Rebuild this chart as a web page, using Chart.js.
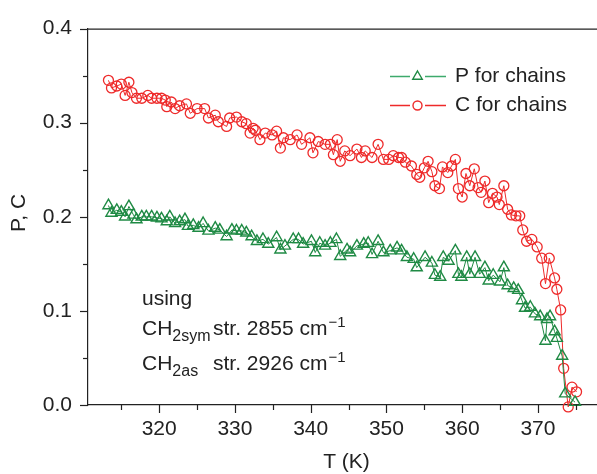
<!DOCTYPE html>
<html>
<head>
<meta charset="utf-8">
<script src="https://cdn.jsdelivr.net/npm/chart.js@4/dist/chart.umd.min.js"></script>
<style>
html,body{margin:0;padding:0;background:#fff;}
#c{display:block;}
</style>
</head>
<body>
<canvas id="c" width="597" height="474"></canvas>
<script>
// ---- data ----
const T_P = [313.3,313.7,314.4,315.0,315.5,316.0,316.6,317.0,317.7,318.3,319.0,319.7,320.3,321.0,321.4,322.1,322.7,323.4,323.8,324.5,325.2,325.8,326.5,327.4,328.0,328.9,329.6,330.2,330.9,331.5,332.2,332.9,333.7,334.4,335.5,336.0,336.6,337.7,338.4,339.0,340.1,340.6,341.2,341.9,342.6,343.4,343.9,344.8,345.2,346.1,347.0,347.6,348.1,348.9,349.6,350.5,351.4,352.0,352.7,353.6,354.0,355.1,356.0,356.4,357.1,357.5,358.2,359.1,359.5,359.9,360.6,361.0,361.7,362.3,363.0,363.5,364.1,365.0,365.5,366.0,366.8,367.4,367.9,368.3,369.0,369.6,370.3,371.0,371.2,371.6,372.2,372.5,373.2,373.6,374.9];
const P_values = [0.212,0.204,0.207,0.205,0.200,0.211,0.202,0.197,0.200,0.200,0.200,0.199,0.198,0.195,0.200,0.193,0.195,0.197,0.190,0.191,0.188,0.193,0.185,0.188,0.186,0.179,0.186,0.185,0.185,0.183,0.179,0.174,0.176,0.171,0.178,0.165,0.169,0.176,0.176,0.171,0.174,0.162,0.172,0.169,0.172,0.176,0.158,0.165,0.162,0.169,0.171,0.172,0.160,0.174,0.162,0.164,0.167,0.164,0.157,0.155,0.146,0.157,0.151,0.138,0.136,0.157,0.153,0.164,0.139,0.136,0.157,0.139,0.157,0.139,0.146,0.132,0.138,0.131,0.146,0.127,0.124,0.122,0.111,0.103,0.104,0.097,0.094,0.068,0.091,0.094,0.078,0.071,0.052,0.012,0.003];

const T_C = [313.3,313.7,314.4,315.0,315.5,316.0,316.4,317.0,317.7,318.5,319.0,319.7,320.3,320.8,321.0,321.6,322.1,322.7,323.6,324.1,325.0,326.0,326.5,327.4,327.8,328.9,329.3,330.2,330.9,331.5,332.0,332.4,332.7,333.3,334.0,334.9,335.5,336.0,336.4,337.3,338.2,338.8,339.9,340.3,341.0,341.9,342.6,343.0,343.5,343.9,344.5,345.2,346.1,346.7,347.2,348.1,348.9,349.6,350.3,350.9,351.6,352.0,352.5,353.3,354.0,354.4,355.0,355.5,356.0,356.4,357.0,357.4,358.1,358.6,359.1,359.5,360.0,360.5,361.0,361.6,362.1,362.5,363.0,363.5,364.0,364.6,364.9,365.5,366.0,366.5,367.1,367.6,368.0,368.5,369.2,369.9,370.5,371.0,371.5,372.2,372.5,373.0,373.4,374.0,374.5,375.1];
const C_values = [0.345,0.337,0.339,0.341,0.329,0.343,0.332,0.326,0.326,0.329,0.326,0.326,0.326,0.324,0.317,0.322,0.315,0.318,0.320,0.310,0.315,0.315,0.305,0.308,0.301,0.296,0.305,0.306,0.301,0.299,0.289,0.294,0.292,0.282,0.289,0.287,0.291,0.273,0.284,0.282,0.287,0.277,0.284,0.268,0.280,0.277,0.277,0.266,0.282,0.259,0.270,0.265,0.272,0.263,0.270,0.263,0.277,0.261,0.261,0.265,0.263,0.263,0.258,0.254,0.245,0.242,0.252,0.259,0.248,0.233,0.230,0.253,0.247,0.254,0.261,0.230,0.221,0.246,0.233,0.251,0.231,0.226,0.238,0.215,0.225,0.221,0.213,0.233,0.208,0.202,0.201,0.201,0.186,0.174,0.176,0.168,0.156,0.129,0.156,0.135,0.123,0.101,0.039,-0.002,0.019,0.014];

const seriesLabels = ['P for chains', 'C for chains'];
const xTickValues = [315,320,325,330,335,340,345,350,355,360,365,370,375];
const xTickLabels = ['', '320', '', '330', '', '340', '', '350', '', '360', '', '370', ''];
const yTickValues = [0, 0.05, 0.1, 0.15, 0.2, 0.25, 0.3, 0.35, 0.4];
const yTickLabels = ['0.0', '', '0.1', '', '0.2', '', '0.3', '', '0.4'];
const xTitle = 'T (K)';
const yTitle = 'P, C';
const noteLines = ['using', 'CH', '2sym', 'str. 2855 cm', 'CH', '2as', 'str. 2926 cm', '\u22121'];

// ---- styling ----
const GREEN = '#1f8a44';
const GREEN_LEG = '#3daa6c';
const RED = '#ee2a2a';
const AXIS = '#222';
const FONT = '"Liberation Sans", Arial, Helvetica, sans-serif';

const ptsP = T_P.map((t, i) => ({x: t, y: P_values[i]}));
const ptsC = T_C.map((t, i) => ({x: t, y: C_values[i]}));

const decor = {
  id: 'decor',
  afterDraw(chart) {
    const ctx = chart.ctx;
    const xs = chart.scales.x, ys = chart.scales.y;
    const ca = chart.chartArea;
    ctx.save();
    ctx.strokeStyle = AXIS;
    ctx.lineWidth = 1.2;
    // top frame line
    ctx.beginPath();
    ctx.moveTo(ca.left, ca.top + 0.5);
    ctx.lineTo(ca.right, ca.top + 0.5);
    ctx.stroke();
    // y tick marks
    yTickValues.forEach((v, i) => {
      const y = Math.round(ys.getPixelForValue(v)) + 0.5;
      const len = yTickLabels[i] ? 8 : 5;
      ctx.beginPath();
      ctx.moveTo(ca.left - len, y);
      ctx.lineTo(ca.left, y);
      ctx.stroke();
    });
    // x tick marks
    xTickValues.forEach((v, i) => {
      const x = Math.round(xs.getPixelForValue(v)) + 0.5;
      const len = xTickLabels[i] ? 8 : 5;
      ctx.beginPath();
      ctx.moveTo(x, ca.bottom);
      ctx.lineTo(x, ca.bottom + len);
      ctx.stroke();
    });
    // axis titles
    ctx.fillStyle = AXIS;
    ctx.font = '21px ' + FONT;
    ctx.textAlign = 'center';
    ctx.textBaseline = 'middle';
    ctx.fillText(xTitle, 346.5, 462);
    ctx.save();
    ctx.translate(19, 213);
    ctx.rotate(-Math.PI / 2);
    ctx.fillText(yTitle, 0, 0);
    ctx.restore();

    // legend
    const legRows = [
      {y: 76.5, color: GREEN_LEG, mcolor: GREEN, style: 'triangle', label: seriesLabels[0]},
      {y: 105.5, color: RED, mcolor: RED, style: 'circle', label: seriesLabels[1]}
    ];
    legRows.forEach(r => {
      ctx.strokeStyle = r.color;
      ctx.lineWidth = 1.5;
      ctx.beginPath();
      ctx.moveTo(390, r.y); ctx.lineTo(410, r.y);
      ctx.moveTo(425, r.y); ctx.lineTo(446, r.y);
      ctx.stroke();
      ctx.strokeStyle = r.mcolor;
      ctx.lineWidth = 1.4;
      ctx.beginPath();
      if (r.style === 'circle') {
        ctx.arc(417.5, r.y, 4.5, 0, Math.PI * 2);
      } else {
        const rr = 5.5;
        ctx.moveTo(417.5, r.y - rr);
        ctx.lineTo(417.5 + rr * 0.866, r.y + rr * 0.5);
        ctx.lineTo(417.5 - rr * 0.866, r.y + rr * 0.5);
        ctx.closePath();
      }
      ctx.stroke();
      ctx.fillStyle = AXIS;
      ctx.font = '21px ' + FONT;
      ctx.textAlign = 'left';
      ctx.textBaseline = 'middle';
      ctx.fillText(r.label, 455, r.y);
    });

    // annotation
    ctx.fillStyle = AXIS;
    ctx.textAlign = 'left';
    ctx.textBaseline = 'alphabetic';
    ctx.font = '21px ' + FONT;
    ctx.fillText(noteLines[0], 142, 305);
    const drawLine = (base, chIdx, subIdx, strIdx) => {
      ctx.font = '21px ' + FONT;
      ctx.fillText(noteLines[chIdx], 142, base);
      const w = ctx.measureText(noteLines[chIdx]).width;
      ctx.font = '16px ' + FONT;
      ctx.fillText(noteLines[subIdx], 142 + w, base + 6);
      ctx.font = '21px ' + FONT;
      ctx.fillText(noteLines[strIdx], 213, base);
      const w2 = ctx.measureText(noteLines[strIdx]).width;
      ctx.font = '15px ' + FONT;
      ctx.fillText(noteLines[7], 213 + w2 + 1, base - 8);
    };
    drawLine(335, 1, 2, 3);
    drawLine(370, 4, 5, 6);
    ctx.restore();
  }
};

new Chart(document.getElementById('c'), {
  type: 'scatter',
  data: {
    datasets: [
      {
        label: seriesLabels[0],
        data: ptsP,
        showLine: true,
        borderColor: GREEN,
        borderWidth: 1,
        pointStyle: 'triangle',
        pointRadius: 6.4,
        pointBorderColor: GREEN,
        pointBackgroundColor: 'rgba(255,255,255,0)',
        pointBorderWidth: 1.4,
        clip: false
      },
      {
        label: seriesLabels[1],
        data: ptsC,
        showLine: true,
        borderColor: RED,
        borderWidth: 1,
        pointStyle: 'circle',
        pointRadius: 5,
        pointBorderColor: RED,
        pointBackgroundColor: 'rgba(255,255,255,0)',
        pointBorderWidth: 1.3,
        clip: false
      }
    ]
  },
  options: {
    responsive: false,
    animation: false,
    devicePixelRatio: 1,
    layout: {autoPadding: false, padding: {top: 22, right: 0, left: 0, bottom: 0}},
    plugins: {legend: {display: false}, tooltip: {enabled: false}},
    scales: {
      x: {
        type: 'linear',
        min: 310.6,
        max: 377.8,
        afterFit: s => { s.height = 69; },
        afterBuildTicks: s => { s.ticks = xTickValues.map(v => ({value: v})); },
        grid: {display: false, drawTicks: false},
        border: {display: true, color: AXIS, width: 1.2},
        ticks: {
          color: AXIS,
          font: {size: 21, family: FONT},
          padding: 12,
          maxRotation: 0,
          autoSkip: false,
          callback: (v) => { const i = xTickValues.indexOf(v); return i >= 0 ? xTickLabels[i] : ''; }
        }
      },
      y: {
        type: 'linear',
        min: 0,
        max: 0.4,
        afterFit: s => { s.width = 88; },
        afterBuildTicks: s => { s.ticks = yTickValues.map(v => ({value: v})); },
        grid: {display: false, drawTicks: false},
        border: {display: true, color: AXIS, width: 1.2},
        ticks: {
          color: AXIS,
          font: {size: 21, family: FONT},
          padding: 16,
          autoSkip: false,
          callback: (v) => { const i = yTickValues.findIndex(t => Math.abs(t - v) < 1e-9); return i >= 0 ? yTickLabels[i] : ''; }
        }
      }
    }
  },
  plugins: [decor]
});
</script>
</body>
</html>
